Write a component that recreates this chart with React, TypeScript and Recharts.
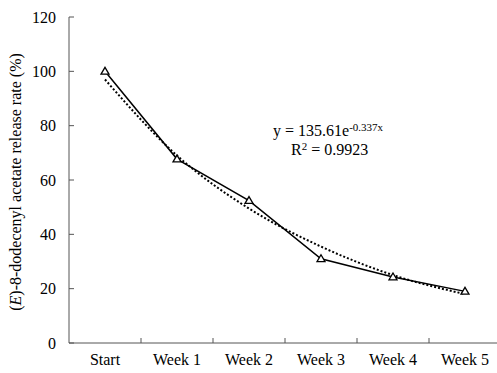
import React from "react";
import { ComposedChart, Line, XAxis, YAxis } from "recharts";

const categories = ["Start", "Week 1", "Week 2", "Week 3", "Week 4", "Week 5"];
const releaseRate = [100, 67.7, 52.4, 31, 24.3, 19];
const trendRate = [97, 69, 49.5, 35.5, 25, 18];
const yTicks = [0, 20, 40, 60, 80, 100, 120];

const data = categories.map((c, i) => ({ name: c, rate: releaseRate[i], trend: trendRate[i] }));

const FONT = "Liberation Serif";
const AXIS = "#555";

const XTick = (props: any) => {
  const { x, y, payload, index } = props;
  return (
    <g>
      {index > 0 && <line x1={x - 36} x2={x - 36} y1={y} y2={y - 5} stroke={AXIS} strokeWidth={1} />}
      <text x={x} y={y + 22} textAnchor="middle" fontFamily={FONT} fontSize={16} fill="#000">
        {payload.value}
      </text>
    </g>
  );
};

const YTick = (props: any) => {
  const { x, y, payload } = props;
  return (
    <g>
      <line x1={x} x2={x + 5} y1={y} y2={y} stroke={AXIS} strokeWidth={1} />
      <text x={x - 13} y={y} dy={5.5} textAnchor="end" fontFamily={FONT} fontSize={16} fill="#000">
        {payload.value}
      </text>
    </g>
  );
};

const TriangleDot = (props: any) => {
  const { cx, cy } = props;
  if (cx == null || cy == null) return null;
  return (
    <path
      d={`M${cx},${cy - 4} L${cx + 4},${cy + 2.8} L${cx - 4},${cy + 2.8} Z`}
      fill="#fff"
      stroke="#000"
      strokeWidth={1.3}
    />
  );
};

const YLabel = (props: any) => {
  const vb = props.viewBox || {};
  const cy = vb.y + vb.height / 2 + 2;
  const cx = 15;
  return (
    <text
      x={cx}
      y={cy}
      transform={`rotate(-90, ${cx}, ${cy})`}
      textAnchor="middle"
      dominantBaseline="central"
      fontFamily={FONT}
      fontSize={16}
      fill="#000"
    >
      (<tspan fontStyle="italic">E</tspan>)-8-dodecenyl acetate release rate (%)
    </text>
  );
};

export default function App() {
  return (
    <div style={{ position: "absolute", left: 0, top: 0, width: 497, height: 373, overflow: "hidden", background: "#fff" }}>
      <ComposedChart width={520} height={373} data={data} margin={{ top: 17, right: 19, left: 0, bottom: 0 }}>
        <XAxis
          dataKey="name"
          scale="band"
          height={30}
          tickSize={0}
          tickMargin={0}
          tick={<XTick />}
          axisLine={{ stroke: AXIS, strokeWidth: 1 }}
          tickLine={false}
          interval={0}
        />
        <YAxis
          width={69}
          domain={[0, 120]}
          ticks={yTicks}
          tickSize={0}
          tickMargin={0}
          tick={<YTick />}
          axisLine={{ stroke: AXIS, strokeWidth: 1 }}
          tickLine={false}
          interval={0}
          label={{ content: <YLabel /> } as any}
        />
        <Line
          dataKey="trend"
          type="monotone"
          stroke="#000"
          strokeWidth={2}
          strokeDasharray="2 2"
          dot={false}
          activeDot={false}
          isAnimationActive={false}
        />
        <Line
          dataKey="rate"
          type="linear"
          stroke="#000"
          strokeWidth={1.5}
          dot={<TriangleDot />}
          activeDot={false}
          isAnimationActive={false}
        />
      </ComposedChart>
      <div
        style={{
          position: "absolute",
          left: 273,
          top: 121,
          fontFamily: "'Liberation Serif', serif",
          fontSize: 16,
          lineHeight: "19px",
          color: "#000",
          whiteSpace: "nowrap",
        }}
      >
        <div>
          y = 135.61e<sup style={{ fontSize: 11, verticalAlign: "5px", lineHeight: 0 }}>-0.337x</sup>
        </div>
        <div style={{ paddingLeft: 18 }}>
          R<sup style={{ fontSize: 11, verticalAlign: "5px", lineHeight: 0 }}>2</sup> = 0.9923
        </div>
      </div>
    </div>
  );
}
